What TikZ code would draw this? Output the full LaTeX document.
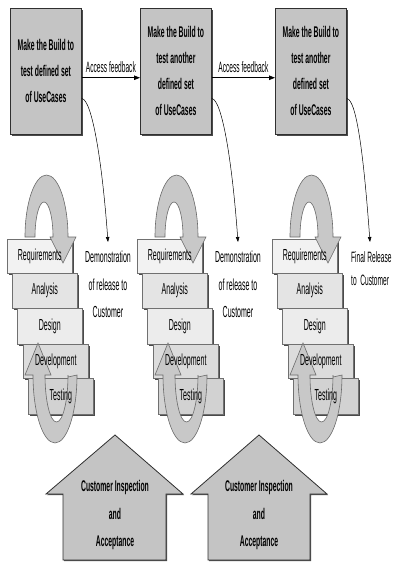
\documentclass[tikz,border=0pt]{standalone}
\usepackage{fontspec}
\setmainfont{Liberation Sans}[FakeStretch=0.44]
\usetikzlibrary{arrows.meta,shadows}

\definecolor{boxgray}{HTML}{C4C4C4}
\definecolor{edge}{HTML}{303030}
\definecolor{shade}{HTML}{4A4A4A}
\definecolor{stageedge}{HTML}{707070}
\definecolor{reqfill}{HTML}{F2F2F2}
\definecolor{anafill}{HTML}{E4E4E4}
\definecolor{desfill}{HTML}{ECECEC}
\definecolor{devfill}{HTML}{DCDCDC}
\definecolor{tstfill}{HTML}{D2D2D2}
\definecolor{loopfill}{HTML}{C8C8C8}
\definecolor{loopedge}{HTML}{6A6A6A}

\begin{document}
\begin{tikzpicture}[x=1pt,y=-1pt,
  buildbox/.style={draw=edge, line width=0.8pt, fill=boxgray,
    minimum width=71pt, minimum height=126pt, anchor=north west,
    inner sep=0pt, align=center,
    font=\bfseries\fontsize{15.5}{26}\selectfont,
    drop shadow={shadow xshift=1.5pt, shadow yshift=-1.5pt, fill=shade, opacity=1}},
  stage/.style={draw=stageedge, line width=0.6pt, minimum width=65pt,
    anchor=north west, inner sep=0pt,
    drop shadow={shadow xshift=1.2pt, shadow yshift=-1.4pt, fill=shade, opacity=1}},
  steptext/.style={font=\fontsize{16}{18}\selectfont, inner sep=0pt},
  lbl/.style={font=\fontsize{15}{18}\selectfont, inner sep=1pt},
  demo/.style={font=\fontsize{16}{27.5}\selectfont, align=center,
    inner xsep=0pt, inner ysep=9pt},
  loop/.style={fill=loopfill, draw=loopedge, line width=0.6pt},
  fb/.style={-{Triangle[length=6pt,width=4.5pt]}, line width=0.8pt},
  release/.style={-{Triangle[length=5pt,width=3.5pt]}, line width=0.5pt},
  house/.style={fill=boxgray, draw=edge, line width=0.8pt,
    drop shadow={shadow xshift=1.2pt, shadow yshift=-1.2pt, fill=shade, opacity=1}},
  housetext/.style={font=\bfseries\fontsize{15.5}{27.5}\selectfont,
    align=center, inner sep=0pt}]

\useasboundingbox (0,0) rectangle (393,563);

% build boxes along the top
\node[buildbox] (b1) at (10,8) {Make the Build to\\test defined set\\of UseCases};
\node[buildbox] (b2) at (140,8) {Make the Build to\\test another\\defined set\\of UseCases};
\node[buildbox] (b3) at (275,8) {Make the Build to\\test another\\defined set\\of UseCases};

% feedback arrows between builds
\draw[fb] (b1.-10) -- node[lbl, above=4pt] (af1) {Access feedback} (b2.190);
\draw[fb] (b2.-10) -- node[lbl, above=4pt] (af2) {Access feedback} (b3.190);

% release notes
\node[demo, anchor=north] (m1) at (108,242) {Demonstration\\of release to\\Customer};
\node[demo, anchor=north] (m2) at (238,242) {Demonstration\\of release to\\Customer};
\node[font=\fontsize{15}{23}\selectfont, align=left, anchor=north west,
  inner xsep=0pt, inner ysep=9pt] (m3) at (351,242) {Final Release\\to\ \ Customer};
\coordinate (t3) at (370,242);

\draw[release] (b1.-37) .. controls (92,100) and (102,160) .. (m1.north);
\draw[release] (b2.-37) .. controls (222,100) and (232,160) .. (m2.north);
\draw[release] (b3.-37) .. controls (357,100) and (364,160) .. (t3);

% iteration stairs with their loops
\foreach \c/\dx in {1/0,2/130,3/265}{
  \begin{scope}[xshift=\dx]
    \node[stage, fill=reqfill, minimum height=34pt] (req\c) at (7,239) {};
    \node[stage, fill=anafill, minimum height=35pt] (ana\c) at (12,273) {};
    \node[stage, fill=desfill, minimum height=36pt] (des\c) at (17,308) {};
    \node[stage, fill=devfill, minimum height=34pt] (dev\c) at (23,344) {};
    \node[stage, fill=tstfill, minimum height=36pt] (tst\c) at (28,378) {};

    % loop over the top step
    \path[loop] (25,237)
      arc[start angle=180, end angle=0, x radius=21.5pt, y radius=62pt]
      -- (76,237) -- (63,263) -- (50,237) -- (53,237)
      arc[start angle=0, end angle=180, x radius=9pt, y radius=35pt]
      -- cycle;

    % loop under the bottom steps
    \path[loop] (45,375) -- (51,375) -- (38,343) -- (25,375) -- (33,375)
      arc[start angle=180, end angle=360, x radius=22pt, y radius=68pt]
      -- (68,377) -- (68,375)
      arc[start angle=360, end angle=180, x radius=11.5pt, y radius=47pt]
      -- cycle;

    \node[steptext] (reqt\c) at (req\c.center) {Requirements};
    \node[steptext] (anat\c) at (ana\c.center) {Analysis};
    \node[steptext] (dest\c) at (des\c.center) {Design};
    \node[steptext] (devt\c) at (dev\c.center) {Development};
    \node[steptext] (tstt\c) at (tst\c.center) {Testing};
  \end{scope}
}

% customer inspection block arrows
\draw[house] (115,435) -- (183,494) -- (166,494) -- (166,560) -- (63,560)
  -- (63,494) -- (46,494) -- cycle;
\draw[house] (259,435) -- (327,494) -- (310,494) -- (310,560) -- (208,560)
  -- (208,494) -- (191,494) -- cycle;
\node[housetext] (h1) at (115,515) {Customer Inspection\\and\\Acceptance};
\node[housetext] (h2) at (259,515) {Customer Inspection\\and\\Acceptance};

\end{tikzpicture}
\end{document}
